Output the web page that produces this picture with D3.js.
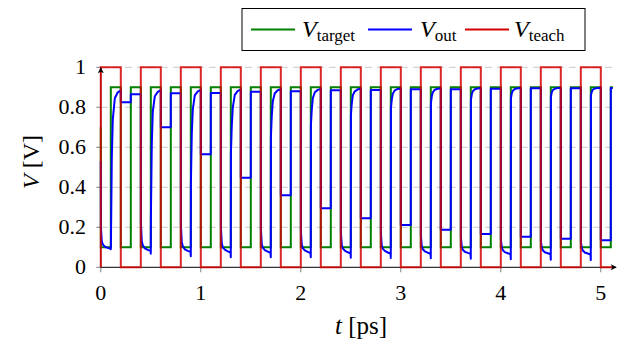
<!DOCTYPE html>
<html><head><meta charset="utf-8">
<script src="https://cdn.jsdelivr.net/npm/d3@7"></script>
<style>body{margin:0;background:#fff}svg{display:block}</style>
</head><body><svg id="c" width="623" height="343"></svg>
<script>
// ---- data ----
const xTicks = [0,1,2,3,4,5];
const yTicks = [0,0.2,0.4,0.6,0.8,1];
const yTickLabels = ["0","0.2","0.4","0.6","0.8","1"];
// teach signal: switching times and level after each switch
const teachTimes  = [0,0.2,0.4,0.6,0.8,1.0,1.2,1.4,1.6,1.8,2.0,2.2,2.4,2.6,2.8,3.0,3.2,3.4,3.6,3.8,4.0,4.2,4.4,4.6,4.8,5.0,5.12];
const teachLevels = [1,0,1,0,1,0,1,0,1,0,1,0,1,0,1,0,1,0,1,0,1,0,1,0,1,0,0];
// target signal
const targetTimes = [0,0.1,0.2,0.3,0.4,0.5,0.6,0.7,0.8,0.9,1.0,1.1,1.2,1.3,1.4,1.5,1.6,1.7,1.8,1.9,2.0,2.1,2.2,2.3,2.4,2.5,2.6,2.7,2.8,2.9,3.0,3.1,3.2,3.3,3.4,3.5,3.6,3.7,3.8,3.9,4.0,4.1,4.2,4.3,4.4,4.5,4.6,4.7,4.8,4.9,5.0,5.1,5.12];
const targetLevels = [0.1,0.9,0.1,0.9,0.1,0.9,0.1,0.9,0.1,0.9,0.1,0.9,0.1,0.9,0.1,0.9,0.1,0.9,0.1,0.9,0.1,0.9,0.1,0.9,0.1,0.9,0.1,0.9,0.1,0.9,0.1,0.9,0.1,0.9,0.1,0.9,0.1,0.9,0.1,0.9,0.1,0.9,0.1,0.9,0.1,0.9,0.1,0.9,0.1,0.9,0.1,0.9,0.9];
const targetStart = 0.7;
// output: period starts (teach high) and samples inside each period
const periodStarts = [0,0.4,0.8,1.2,1.6,2.0,2.4,2.8,3.2,3.6,4.0,4.4,4.8];
const outStart = 0.53;
const decayOffsets = [0.001,0.01,0.02,0.04,0.07,0.097,0.1];
const decayValues = [
 [0.20,0.13,0.115,0.103,0.097,0.093,0.09],
 [0.22,0.13,0.11,0.095,0.087,0.082,0.068],
 [0.21,0.125,0.105,0.09,0.082,0.077,0.055],
 [0.20,0.12,0.10,0.088,0.08,0.074,0.05],
 [0.19,0.115,0.098,0.086,0.078,0.072,0.05],
 [0.18,0.112,0.096,0.085,0.077,0.071,0.05],
 [0.175,0.11,0.095,0.083,0.075,0.07,0.048],
 [0.17,0.108,0.093,0.082,0.074,0.069,0.047],
 [0.16,0.105,0.09,0.08,0.073,0.068,0.045],
 [0.15,0.103,0.088,0.078,0.072,0.067,0.043],
 [0.14,0.10,0.086,0.076,0.07,0.066,0.04],
 [0.13,0.098,0.085,0.075,0.07,0.065,0.038],
 [0.125,0.097,0.084,0.074,0.069,0.064,0.036]
];
const riseOffsets = [0.101,0.11,0.12,0.14,0.17,0.2];
const riseValues = [
 [0.10,0.55,0.74,0.845,0.875,0.885],
 [0.25,0.62,0.78,0.855,0.877,0.886],
 [0.42,0.67,0.79,0.86,0.88,0.887],
 [0.565,0.71,0.80,0.862,0.882,0.888],
 [0.65,0.76,0.83,0.87,0.885,0.89],
 [0.71,0.79,0.845,0.875,0.887,0.892],
 [0.76,0.82,0.86,0.88,0.89,0.893],
 [0.795,0.84,0.868,0.885,0.892,0.894],
 [0.82,0.855,0.875,0.888,0.893,0.895],
 [0.836,0.865,0.88,0.89,0.894,0.896],
 [0.845,0.87,0.883,0.892,0.895,0.896],
 [0.853,0.875,0.886,0.893,0.896,0.897],
 [0.86,0.878,0.888,0.894,0.896,0.898]
];
const holdA = [0.825,0.70,0.565,0.448,0.36,0.295,0.245,0.212,0.188,0.167,0.153,0.143,0.135];
const holdB = [0.865,0.87,0.872,0.878,0.88,0.885,0.887,0.89,0.89,0.893,0.895,0.895,0.897];
const tEnd = 5.12;

// ---- chart ----
const svg = d3.select("#c");
const FONT = '"Liberation Serif", serif';
const x = d3.scaleLinear().domain([0,5.12]).range([100.8,612.8]);
const y = d3.scaleLinear().domain([0,1]).range([267.3,67.3]);

// grid
svg.append("g").selectAll("line").data(yTicks.filter(d=>d>0)).join("line")
  .attr("x1",x(0)).attr("x2",x(5.12)).attr("y1",d=>y(d)).attr("y2",d=>y(d))
  .attr("stroke","#c8c8c8").attr("stroke-width",1).attr("stroke-dasharray","7,5");
// ticks
svg.append("g").selectAll("line").data(yTicks).join("line")
  .attr("x1",x(0)-4.5).attr("x2",x(0)).attr("y1",d=>y(d)).attr("y2",d=>y(d))
  .attr("stroke","#808080").attr("stroke-width",1);
svg.append("g").selectAll("line").data(xTicks).join("line")
  .attr("x1",d=>x(d)).attr("x2",d=>x(d)).attr("y1",y(0)).attr("y2",y(0)+5)
  .attr("stroke","#808080").attr("stroke-width",1);
// axis lines
svg.append("line").attr("x1",x(0)).attr("x2",x(5.12)+3).attr("y1",y(0)).attr("y2",y(0)).attr("stroke","#000").attr("stroke-width",1);
svg.append("line").attr("x1",x(0)).attr("x2",x(0)).attr("y1",y(0)).attr("y2",y(1)).attr("stroke","#000").attr("stroke-width",1);

// series
const line = d3.line().x(d=>x(d[0])).y(d=>y(d[1]));
const tPts = [[0,targetStart]];
targetTimes.forEach((t,i)=>{ if(i>0) tPts.push([t,targetLevels[i-1]]); tPts.push([t,targetLevels[i]]); });
svg.append("path").attr("d",line(tPts)).attr("fill","none").attr("stroke","#008000").attr("stroke-width",2);

const oPts = [[0,outStart]];
periodStarts.forEach((b,k)=>{
  decayOffsets.forEach((o,i)=>oPts.push([b+o,decayValues[k][i]]));
  riseOffsets.forEach((o,i)=>oPts.push([b+o,riseValues[k][i]]));
  oPts.push([b+0.2,holdA[k]]);
  oPts.push([b+0.3,holdA[k]]);
  oPts.push([b+0.3,holdB[k]]);
  oPts.push([Math.min(b+0.4,tEnd),holdB[k]]);
});
svg.append("path").attr("d",line(oPts)).attr("fill","none").attr("stroke","#0000ff").attr("stroke-width",2).attr("stroke-linejoin","round");

const rPts = [[0,0]];
teachTimes.forEach((t,i)=>{ if(i>0) rPts.push([t,teachLevels[i-1]]); rPts.push([t,teachLevels[i]]); });
svg.append("path").attr("d",line(rPts)).attr("fill","none").attr("stroke","#d40000").attr("stroke-opacity",0.85).attr("stroke-width",2);

// arrow heads
svg.append("path").attr("d",`M${x(5.12)+4},${y(0)} l-6,-3 l1.5,3 l-1.5,3 z`).attr("fill","#000");
svg.append("path").attr("d",`M${x(0)},${y(1)} l-3,6 l3,-1.5 l3,1.5 z`).attr("fill","#000");

// tick labels
svg.append("g").selectAll("text").data(yTicks).join("text")
  .style("font-family",FONT)
  .attr("x",86).attr("y",d=>y(d)+7).attr("text-anchor","end").attr("font-size",22)
  .text((d,i)=>yTickLabels[i]);
svg.append("g").selectAll("text").data(xTicks).join("text")
  .style("font-family",FONT)
  .attr("x",d=>x(d)).attr("y",300).attr("text-anchor","middle").attr("font-size",22)
  .text(d=>d);

// axis labels
const xl = svg.append("text").style("font-family",FONT).attr("x",361).attr("y",334).attr("text-anchor","middle").attr("font-size",25);
xl.append("tspan").attr("font-style","italic").text("t");
xl.append("tspan").text(" [ps]");
const yl = svg.append("text").style("font-family",FONT).attr("transform","translate(39,162) rotate(-90)").attr("text-anchor","middle").attr("font-size",24);
yl.append("tspan").attr("font-style","italic").text("V");
yl.append("tspan").text(" [V]");

// legend
const leg = svg.append("g");
leg.append("rect").attr("x",242).attr("y",8.5).attr("width",343).attr("height",42).attr("fill","#fff").attr("stroke","#000").attr("stroke-width",1);
const legItems = [
  {name:"target", color:"#008000", x1:251, tx:302},
  {name:"out", color:"#0000ff", x1:368, tx:420},
  {name:"teach", color:"#d40000", x1:465, tx:514}
];
legItems.forEach(it=>{
  leg.append("line").attr("x1",it.x1).attr("x2",it.x1+44).attr("y1",29.5).attr("y2",29.5).attr("stroke",it.color).attr("stroke-width",2);
  const t = leg.append("text").style("font-family",FONT).attr("x",it.tx).attr("y",37).attr("font-size",24);
  t.append("tspan").attr("font-style","italic").text("V");
  t.append("tspan").attr("font-size",17).attr("dy",4).text(it.name);
});
</script></body></html>
